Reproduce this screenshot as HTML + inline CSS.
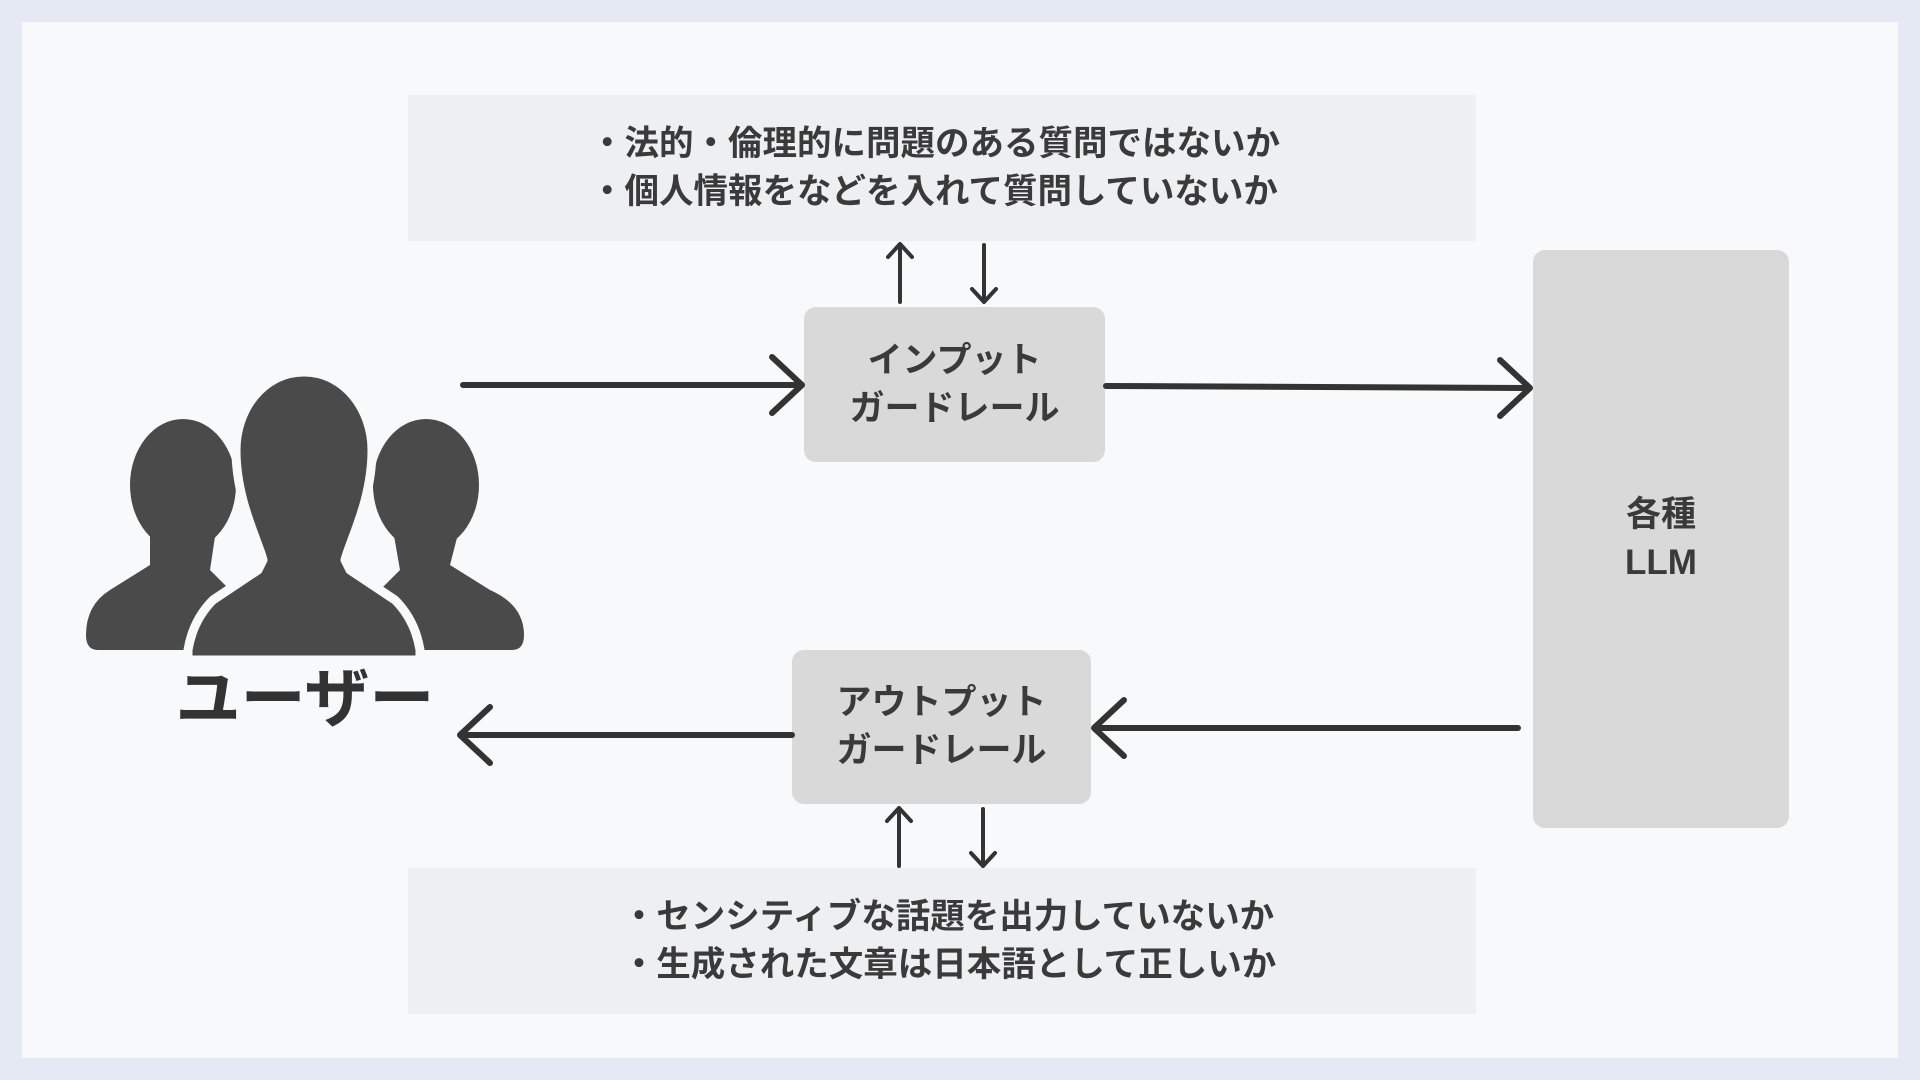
<!DOCTYPE html>
<html><head><meta charset="utf-8"><style>
body{margin:0;width:1920px;height:1080px;background:#e5e9f4;position:relative;overflow:hidden;font-family:"Liberation Sans","Noto Sans CJK JP",sans-serif;}
.panel{position:absolute;left:22px;top:22px;width:1876px;height:1036px;background:#f8f9fb;}
.box{position:absolute;display:flex;flex-direction:column;align-items:center;justify-content:center;font-weight:bold;color:#3a3a3a;}
.note{background:#eeeff1;font-size:34.5px;line-height:48px;left:408px;width:1068px;height:146px;}
.g{background:#d9d9d9;border-radius:12px;font-size:35px;line-height:48px;text-align:center;}
</style></head><body>
<div class="panel"></div>
<div class="box note" style="top:95px;"><div style="margin-left:-14px">・法的・倫理的に問題のある質問ではないか<br>・個人情報をなどを入れて質問していないか</div></div>
<div class="box note" style="top:868px;"><div style="margin-left:14px">・センシティブな話題を出力していないか<br>・生成された文章は日本語として正しいか</div></div>
<div class="box g" style="left:804px;top:307px;width:301px;height:155px;">インプット<br>ガードレール</div>
<div class="box g" style="left:792px;top:650px;width:299px;height:154px;">アウトプット<br>ガードレール</div>
<div class="box g" style="left:1533px;top:250px;width:256px;height:578px;">各種<br>LLM</div>
<div style="position:absolute;left:140px;top:646px;width:330px;text-align:center;font-size:65px;font-weight:bold;color:#333;">ユーザー</div>
<svg width="1920" height="1080" style="position:absolute;left:0;top:0" fill="none" stroke="#333" stroke-width="6" stroke-linecap="round" stroke-linejoin="round">
<path d="M463 385H800M772 357L802 385L772 413"/>
<path d="M1106 386L1528 388M1500 360L1530 388L1500 416"/>
<path d="M1518 728H1096M1124 700L1094 728L1124 756"/>
<path d="M792 735H462M490 707L460 735L490 763"/>
<g stroke-width="4">
<path d="M900 302V244M888 257L900 244L912 257"/>
<path d="M984 245V302M972 289L984 302L996 289"/>
<path d="M899 866V808M887 821L899 808L911 821"/>
<path d="M983 809V866M971 853L983 866L995 853"/>
</g>
<g fill="#4a4a4a" stroke="none">
<ellipse cx="183" cy="485" rx="53" ry="66"/>
<path d="M150 530 L216 530 L210 570 L240 600 Q270 620 270 650 H98 Q86 650 86 635 Q86 605 110 590 L150 565Z"/>
<ellipse cx="426" cy="485" rx="53" ry="66"/>
<path d="M393 530 L459 530 L450 565 L490 590 Q524 605 524 635 Q524 650 512 650 H340 Q340 620 370 600 L400 570Z"/>
</g>
<g fill="#4a4a4a" stroke="#f8f9fb" stroke-width="9">
<path d="M304 372 C345 372 372 410 372 450 C372 500 350 540 345 560 L350 570 L395 600 Q415 620 420 650 L420 660 H188 L188 650 Q193 620 213 600 L258 570 L263 560 C258 540 236 500 236 450 C236 410 263 372 304 372Z"/>
</g>
</svg>
</body></html>
